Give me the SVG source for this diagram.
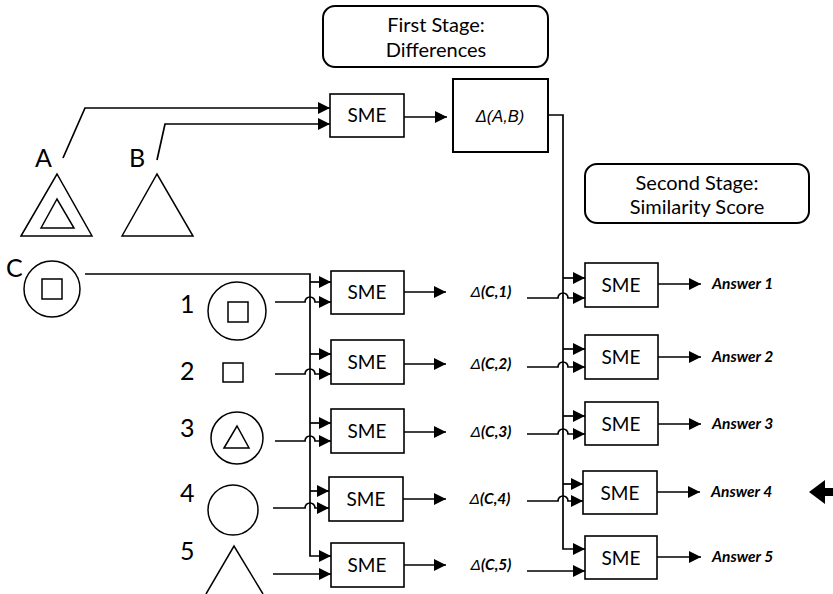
<svg xmlns="http://www.w3.org/2000/svg" width="833" height="594" viewBox="0 0 833 594">
<style>
.ln{fill:none;stroke:#000;stroke-width:1.7}
.ar{marker-end:url(#ah)}
.box{fill:#fff;stroke:#000;stroke-width:1.6}
.shp{fill:none;stroke:#000;stroke-width:1.5}
.t{font-family:Lato,"Open Sans",sans-serif;fill:#000}
.sme{font-size:19px;text-anchor:middle}
.stage{font-size:20px;text-anchor:middle}
.big{font-size:25px}
.dl{font-size:15.5px;font-weight:bold;font-style:italic;text-anchor:middle}
.ans{font-size:15.5px;font-weight:bold;font-style:italic}
.delta{font-family:"Liberation Sans",Arial,sans-serif;font-style:italic;font-weight:normal}
</style>
<defs>
<marker id="ah" markerUnits="userSpaceOnUse" markerWidth="13" markerHeight="13" refX="12" refY="6" orient="auto"><path d="M0,0 L12,6 L0,12 z" fill="#000"/></marker>
</defs>
<rect width="833" height="594" fill="#fff"/>

<g id="connectors">
<path class="ln ar" d="M63,158 L85,108 H330"/>
<path class="ln ar" d="M157,160 L165,124 H330"/>
<path class="ln ar" d="M404,117 H447"/>
<path class="ln ar" d="M548,115 H563 V549 H585"/>
<path class="ln ar" d="M563,278 H585"/>
<path class="ln ar" d="M563,349 H585"/>
<path class="ln ar" d="M563,416 H585"/>
<path class="ln ar" d="M563,484 H583"/>
<path class="ln ar" d="M527,298 H558 a5,5 0 0 1 10,0 H585"/>
<path class="ln ar" d="M527,367 H558 a5,5 0 0 1 10,0 H585"/>
<path class="ln ar" d="M527,434 H558 a5,5 0 0 1 10,0 H585"/>
<path class="ln ar" d="M527,501 H558 a5,5 0 0 1 10,0 H583"/>
<path class="ln ar" d="M527,571 H585"/>
<path class="ln ar" d="M658,284 H701"/>
<path class="ln ar" d="M658,357 H701"/>
<path class="ln ar" d="M658,424 H701"/>
<path class="ln ar" d="M657,492 H700"/>
<path class="ln ar" d="M657,557 H701"/>
<path class="ln ar" d="M404,292 H446"/>
<path class="ln ar" d="M404,364 H446"/>
<path class="ln ar" d="M404,432 H446"/>
<path class="ln ar" d="M403,499 H446"/>
<path class="ln ar" d="M404,565 H446"/>
<path class="ln ar" d="M85,274 H310 V556 H331"/>
<path class="ln ar" d="M310,282 H331"/>
<path class="ln ar" d="M310,354 H331"/>
<path class="ln ar" d="M310,423 H331"/>
<path class="ln ar" d="M310,491 H329"/>
<path class="ln ar" d="M275,302 H305 a5,5 0 0 1 10,0 H331"/>
<path class="ln ar" d="M275,374 H305 a5,5 0 0 1 10,0 H331"/>
<path class="ln ar" d="M275,441 H305 a5,5 0 0 1 10,0 H331"/>
<path class="ln ar" d="M273,508 H305 a5,5 0 0 1 10,0 H329"/>
<path class="ln ar" d="M273,574 H331"/>
<polygon points="809,492 825,480 825,488 833,488 833,496 825,496 825,504" fill="#000"/>
</g>

<g id="stage1">
<rect x="323" y="6" width="225" height="61" rx="12" fill="#fff" stroke="#000" stroke-width="2"/>
<text class="t stage" x="436" y="32">First Stage:</text>
<text class="t stage" x="436" y="57">Differences</text>
</g>
<g id="stage2">
<rect x="585" y="164" width="224" height="59" rx="12" fill="#fff" stroke="#000" stroke-width="2"/>
<text class="t stage" x="697" y="190">Second Stage:</text>
<text class="t stage" x="697" y="214">Similarity Score</text>
</g>

<g id="smeTop"><rect class="box" x="330" y="94" width="74" height="43"/><text class="t sme" x="367" y="122">SME</text></g>
<g id="deltaAB"><rect x="453" y="79" width="95" height="73" fill="#fff" stroke="#000" stroke-width="2"/><text class="delta" x="500" y="122" font-size="16.5" text-anchor="middle">Δ(A,B)</text></g>

<g id="A">
<text class="t big" x="35" y="167">A</text>
<polygon class="shp" points="21,236 57,174 92,236"/>
<polygon class="shp" points="41,228 57,199 74,228" stroke-width="2"/>
</g>
<g id="B">
<text class="t big" x="129" y="167">B</text>
<polygon class="shp" points="122,236 157,174 193,236"/>
</g>
<g id="C">
<text class="t big" x="6" y="277">C</text>
<circle class="shp" cx="52" cy="289" r="28"/>
<rect class="shp" x="42" y="279" width="20" height="20"/>
</g>

<g id="item1">
<text class="t big" x="180" y="313">1</text>
<circle class="shp" cx="237" cy="311" r="29"/>
<rect class="shp" x="228" y="302" width="20" height="20"/>
</g>
<g id="item2">
<text class="t big" x="180" y="380">2</text>
<rect class="shp" x="223" y="363" width="20" height="19"/>
</g>
<g id="item3">
<text class="t big" x="180" y="437">3</text>
<circle class="shp" cx="237" cy="438" r="26"/>
<polygon class="shp" points="224,448 237,426 249,448"/>
</g>
<g id="item4">
<text class="t big" x="180" y="502">4</text>
<circle class="shp" cx="233" cy="510" r="25"/>
</g>
<g id="item5">
<text class="t big" x="180" y="560">5</text>
<polyline class="shp" points="206,594 234,546 263,594"/>
</g>

<g id="sme1"><rect class="box" x="331" y="271" width="73" height="43"/><text class="t sme" x="367" y="299">SME</text></g>
<g id="sme2"><rect class="box" x="331" y="340" width="73" height="44"/><text class="t sme" x="367" y="369">SME</text></g>
<g id="sme3"><rect class="box" x="331" y="409" width="73" height="44"/><text class="t sme" x="367" y="438">SME</text></g>
<g id="sme4"><rect class="box" x="329" y="477" width="74" height="44"/><text class="t sme" x="366" y="506">SME</text></g>
<g id="sme5"><rect class="box" x="331" y="543" width="73" height="44"/><text class="t sme" x="367" y="572">SME</text></g>

<g id="dC1"><text class="t dl" x="491" y="297"><tspan class="delta">Δ</tspan>(C,1)</text></g>
<g id="dC2"><text class="t dl" x="491" y="369"><tspan class="delta">Δ</tspan>(C,2)</text></g>
<g id="dC3"><text class="t dl" x="491" y="437"><tspan class="delta">Δ</tspan>(C,3)</text></g>
<g id="dC4"><text class="t dl" x="490" y="504"><tspan class="delta">Δ</tspan>(C,4)</text></g>
<g id="dC5"><text class="t dl" x="491" y="570"><tspan class="delta">Δ</tspan>(C,5)</text></g>

<g id="smeB1"><rect class="box" x="585" y="263" width="73" height="44"/><text class="t sme" x="621" y="292">SME</text></g>
<g id="smeB2"><rect class="box" x="585" y="335" width="73" height="44"/><text class="t sme" x="621" y="364">SME</text></g>
<g id="smeB3"><rect class="box" x="585" y="402" width="73" height="43"/><text class="t sme" x="621" y="431">SME</text></g>
<g id="smeB4"><rect class="box" x="583" y="471" width="74" height="43"/><text class="t sme" x="620" y="500">SME</text></g>
<g id="smeB5"><rect class="box" x="585" y="536" width="72" height="43"/><text class="t sme" x="621" y="565">SME</text></g>

<g id="ans1"><text class="t ans" x="712" y="289">Answer 1</text></g>
<g id="ans2"><text class="t ans" x="712" y="362">Answer 2</text></g>
<g id="ans3"><text class="t ans" x="712" y="429">Answer 3</text></g>
<g id="ans4"><text class="t ans" x="711" y="497">Answer 4</text></g>
<g id="ans5"><text class="t ans" x="712" y="562">Answer 5</text></g>
</svg>
